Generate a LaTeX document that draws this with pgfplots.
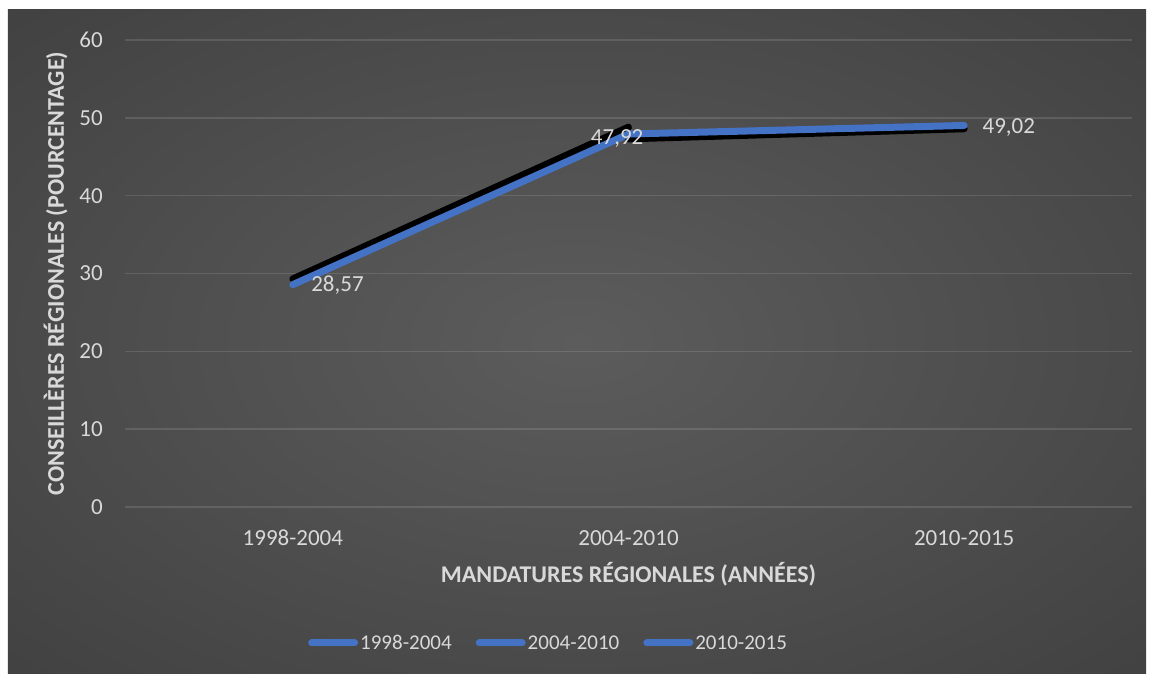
\documentclass[border=0pt]{standalone}
\usepackage{fontspec}
\setmainfont{Carlito}
\usepackage{pgfplots}
\pgfplotsset{compat=1.18}
\definecolor{bgin}{HTML}{5C5C5C}
\definecolor{bgout}{HTML}{262626}
\definecolor{txt}{HTML}{D9D9D9}
\definecolor{lineblue}{HTML}{4472C4}
\pgfdeclareradialshading{bgshade}{\pgfpointorigin}{color(0bp)=(bgin); color(72bp)=(bgout)}
\begin{document}
\begin{tikzpicture}
\useasboundingbox (-125pt,-167pt) rectangle (1024pt,507pt);
\fill[white] (-125pt,-167pt) rectangle (1024pt,507pt);
\shade[shading=bgshade] (-117pt,-167pt) rectangle (1021pt,497pt);
\begin{axis}[
  at={(0pt,0pt)}, anchor=south west,
  scale only axis, width=1007pt, height=467pt,
  xmin=-0.5, xmax=2.5, ymin=0, ymax=60,
  xtick={0,1,2}, xticklabels={1998-2004,2004-2010,2010-2015},
  ytick={0,10,...,60},
  axis line style={draw=none}, tick style={draw=none},
  ymajorgrids, grid style={white, opacity=0.12, line width=1.5pt},
  /pgf/number format/assume math mode=true,
  tick label style={text=txt, font=\fontsize{23}{28}\selectfont, inner sep=0pt},
  yticklabel style={anchor=east, xshift=-22pt},
  xticklabel style={anchor=north, yshift=-23pt},
  xlabel={MANDATURES RÉGIONALES (ANNÉES)},
  ylabel={CONSEILLÈRES RÉGIONALES (POURCENTAGE)},
  label style={text=txt, font=\fontsize{24}{29}\selectfont\bfseries, inner sep=0pt},
  xlabel style={at={(axis description cs:0.5,-0.16274)}, anchor=base},
  ylabel style={at={(axis description cs:-0.06058,0.5)}, anchor=base},
  clip=false,
  legend style={at={(axis description cs:0.4206,-0.2912)}, anchor=center, draw=none, fill=none,
    text=txt, font=\fontsize{21}{25}\selectfont, legend columns=3,
    /tikz/every even column/.append style={column sep=22pt}, nodes={inner sep=2pt}},
  legend image code/.code={\draw[#1] (3.5pt,0pt) -- (46.5pt,0pt);},
]
\addplot[black, line width=7pt, line cap=round, forget plot] coordinates {(0,29.3) (1,48.8)};
\addplot[black, line width=7pt, line cap=round, forget plot] coordinates {(1,47.3) (2,48.6)};
\addplot[lineblue, line width=7pt, line cap=round, line join=round, forget plot,
  nodes near coords={\pgfmathprintnumber[fixed,precision=2,fixed zerofill,use comma]{\pgfplotspointmeta}},
  every node near coord/.append style={text=txt, font=\fontsize{23}{28}\selectfont, inner sep=0pt, anchor=west},
  coordinate style/.condition={\coordindex==0}{xshift=15pt},
  coordinate style/.condition={\coordindex==1}{xshift=-41pt, yshift=-4pt},
  coordinate style/.condition={\coordindex==2}{xshift=15pt, yshift=-2pt},
] coordinates {(0,28.57) (1,47.92) (2,49.02)};
\addlegendimage{lineblue, line width=7pt, line cap=round}
\addlegendentry{1998-2004}
\addlegendimage{lineblue, line width=7pt, line cap=round}
\addlegendentry{2004-2010}
\addlegendimage{lineblue, line width=7pt, line cap=round}
\addlegendentry{2010-2015}
\end{axis}
\end{tikzpicture}
\end{document}
